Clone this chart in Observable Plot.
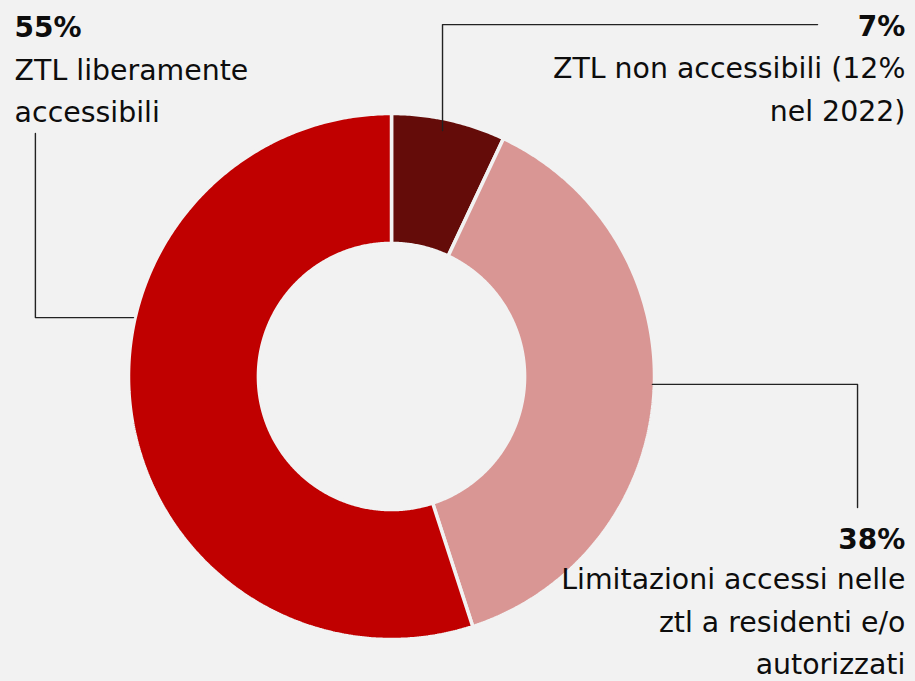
<!DOCTYPE html>
<html>
<head>
<meta charset="utf-8">
<script src="https://cdn.jsdelivr.net/npm/d3@7"></script>
<script src="https://cdn.jsdelivr.net/npm/@observablehq/plot@0.6"></script>
<style>
  html, body { margin: 0; padding: 0; background: #f2f2f2; }
  #chart svg { display: block; }
</style>
</head>
<body>
<div id="chart"></div>
<script>
// ---- Data ----
const categories = ["ZTL non accessibili", "Limitazioni accessi", "ZTL liberamente accessibili"];
const shares = [7, 38, 55];
const colors = ["#640c09", "#d99694", "#c00000"];
const percentLabels = ["7%", "38%", "55%"];
const labelTexts = [
  "ZTL non accessibili (12%\nnel 2022)",
  "Limitazioni accessi nelle\nztl a residenti e/o\nautorizzati",
  "ZTL liberamente\naccessibili"
];

// ---- Layout (in units of the outer radius, origin at donut centre) ----
const innerRatio = 0.506;
const annotationLayout = [
  { x: 1.954, anchor: "end", pctY: 1.293, labelY: 0.973,
    leader: [[0.194, 0.935], [0.194, 1.338], [1.620, 1.338]] },
  { x: 1.954, anchor: "end", pctY: -0.654, labelY: -1.133,
    leader: [[0.992, -0.030], [1.772, -0.030], [1.772, -0.498]] },
  { x: -1.433, anchor: "start", pctY: 1.289, labelY: 0.966,
    leader: [[-1.354, 0.924], [-1.354, 0.224], [-0.981, 0.224]] }
];

// ---- Build slice polygons from the shares ----
const pie = d3.pie().sort(null).value(d => d)(shares);
const slicePts = [];
pie.forEach((p, i) => {
  const a0 = p.startAngle, a1 = p.endAngle;
  const n = Math.max(4, Math.ceil((a1 - a0) / (Math.PI / 360)));
  const pts = [];
  for (let k = 0; k <= n; k++) {
    const a = a0 + (a1 - a0) * k / n;
    pts.push({ x: Math.sin(a), y: Math.cos(a) });
  }
  for (let k = n; k >= 0; k--) {
    const a = a0 + (a1 - a0) * k / n;
    pts.push({ x: innerRatio * Math.sin(a), y: innerRatio * Math.cos(a) });
  }
  pts.push(pts[0]);
  pts.forEach(pt => slicePts.push({ ...pt, cat: categories[i] }));
});

const annots = categories.map((c, i) => ({
  cat: c, pct: percentLabels[i], label: labelTexts[i], ...annotationLayout[i]
}));
const leaderPts = annots.flatMap(a => a.leader.map(([x, y]) => ({ x, y, cat: a.cat })));

const font = "DejaVu Sans";
const textColor = "#0d0d0d";

const chart = Plot.plot({
  width: 915,
  height: 681,
  marginLeft: 128,
  marginRight: 261,
  marginTop: 113,
  marginBottom: 42,
  x: { domain: [-1, 1], axis: null },
  y: { domain: [-1, 1], axis: null },
  color: { domain: categories, range: colors },
  style: { background: "#f2f2f2", fontFamily: font, overflow: "visible" },
  marks: [
    Plot.line(slicePts, {
      x: "x", y: "y", z: "cat", fill: "cat",
      stroke: "#f2f2f2", strokeWidth: 3.5, strokeLinejoin: "miter", curve: "linear"
    }),
    Plot.line(leaderPts, {
      x: "x", y: "y", z: "cat", stroke: "#222", strokeWidth: 1.4, curve: "linear"
    }),
    ...annots.map(a => Plot.text([a], {
      x: "x", y: "pctY", text: "pct", textAnchor: a.anchor,
      lineAnchor: "bottom", fontSize: 28, fontWeight: "bold", fill: textColor
    })),
    ...annots.map(a => Plot.text([a], {
      x: "x", y: "labelY", text: "label", textAnchor: a.anchor,
      lineAnchor: "bottom", lineHeight: 1.5, fontSize: 28.4, fill: textColor
    }))
  ]
});
document.getElementById("chart").appendChild(chart);
</script>
</body>
</html>
